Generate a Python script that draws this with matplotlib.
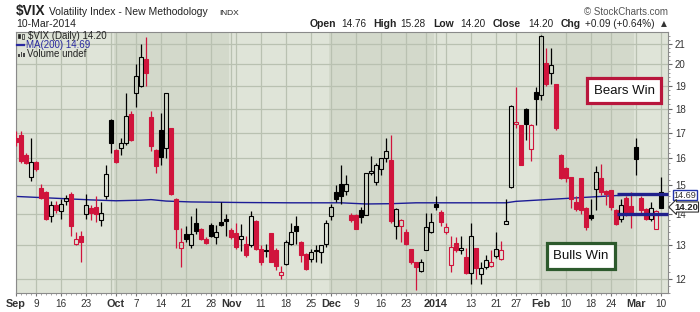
import numpy as np
import pandas as pd
import matplotlib
matplotlib.use("Agg")
import matplotlib.pyplot as plt
from matplotlib.patches import Rectangle
from matplotlib.ticker import FixedLocator, NullFormatter

# trading days Sep 3 2013 .. Mar 10 2014
holidays = ["2013-11-28", "2013-12-25", "2014-01-01", "2014-01-20", "2014-02-17"]
dates = pd.bdate_range("2013-09-03", "2014-03-10")
dates = dates[~dates.isin(pd.to_datetime(holidays))]

prev_close = 17.01

opens = [16.80, 16.90, 16.10, 15.30, 15.85, 14.90, 14.75, 13.95, 14.30, 14.10,
         14.45, 14.70, 13.05, 13.30, 14.00, 14.20, 14.25, 13.80, 14.60, 17.50,
         16.30, 16.40, 16.60, 17.75, 18.70, 19.00, 20.25, 17.65, 16.30, 17.10,
         16.40, 17.20, 14.50, 12.90, 13.35, 13.00, 13.70, 13.50, 13.20, 13.65,
         13.25, 13.75, 13.85, 13.48, 13.37, 13.20, 13.04, 12.99, 13.77, 12.87,
         12.85, 13.37, 12.84, 12.10, 12.43, 13.04, 13.60, 13.10, 12.72, 12.57,
         12.84, 12.79, 13.04, 13.94, 14.75, 15.05, 14.78, 13.98, 13.96, 14.12,
         13.98, 15.42, 15.10, 15.60, 16.00, 15.94, 13.60, 13.60, 13.40, 12.89,
         12.50, 12.22, 12.84, 13.43, 14.35, 14.07, 13.43, 12.40, 13.07, 12.84,
         12.64, 12.18, 12.91, 12.14, 12.33, 12.38, 12.67, 12.59, 13.67, 14.93,
         17.35, 17.30, 17.96, 16.36, 18.73, 18.58, 20.06, 19.60, 19.10, 16.13,
         15.63, 15.30, 14.40, 15.24, 14.20, 13.98, 14.85, 15.26, 14.80, 14.82,
         14.15, 13.83, 14.55, 14.26, 16.43, 14.53, 14.17, 13.85, 13.52, 14.76]

highs = [17.05, 17.05, 16.20, 16.80, 15.90, 15.05, 14.80, 14.45, 14.45, 14.50,
         14.65, 14.75, 13.40, 13.45, 14.70, 14.30, 14.60, 14.40, 15.75, 17.55,
         16.35, 16.80, 18.70, 17.90, 20.00, 21.00, 21.35, 17.90, 16.35, 17.80,
         18.70, 17.20, 14.55, 13.55, 13.60, 13.95, 14.20, 13.55, 13.25, 13.70,
         13.65, 14.40, 14.00, 13.55, 13.70, 13.66, 13.30, 14.10, 13.80, 12.99,
         13.05, 13.37, 12.90, 12.38, 13.15, 13.70, 13.95, 13.12, 12.75, 12.89,
         13.00, 13.01, 13.80, 14.33, 15.00, 15.75, 15.35, 14.05, 14.00, 14.25,
         15.42, 16.07, 15.82, 16.00, 16.80, 16.90, 14.20, 13.85, 13.50, 12.89,
         12.50, 12.58, 14.03, 14.03, 14.60, 14.12, 13.70, 13.30, 13.25, 13.29,
         12.91, 13.70, 12.91, 12.48, 12.69, 12.84, 13.43, 13.12, 14.52, 18.15,
         18.95, 17.30, 18.03, 17.35, 18.95, 21.45, 20.80, 20.77, 19.10, 16.17,
         15.66, 15.30, 14.60, 15.24, 14.24, 14.52, 15.70, 15.78, 14.83, 14.82,
         14.17, 14.52, 14.60, 14.75, 16.80, 14.60, 14.20, 14.40, 14.15, 15.28]

lows = [16.45, 15.80, 15.78, 15.15, 15.50, 14.50, 13.80, 13.75, 14.05, 13.85,
        14.30, 13.30, 13.00, 12.50, 13.85, 13.80, 13.75, 13.60, 14.50, 16.20,
        15.80, 16.10, 16.50, 16.65, 18.05, 18.95, 19.00, 16.25, 15.45, 15.75,
        16.00, 14.65, 12.90, 12.35, 13.10, 12.90, 13.35, 13.15, 13.03, 13.25,
        13.05, 13.60, 13.30, 13.20, 12.88, 12.83, 12.65, 12.95, 12.85, 12.40,
        12.64, 12.48, 12.24, 11.98, 12.40, 13.00, 13.05, 12.50, 12.25, 12.48,
        12.48, 12.45, 12.94, 13.80, 14.40, 14.35, 14.65, 13.75, 13.50, 13.70,
        13.96, 15.38, 15.02, 15.35, 15.85, 13.70, 13.18, 13.10, 12.99, 12.44,
        11.69, 12.20, 12.84, 13.38, 14.13, 13.60, 13.35, 12.20, 12.79, 12.74,
        12.13, 11.85, 11.99, 11.84, 12.28, 12.33, 12.60, 12.54, 13.66, 14.90,
        17.20, 15.72, 16.70, 15.90, 17.32, 18.35, 19.00, 19.10, 17.10, 15.23,
        15.11, 14.20, 14.10, 14.00, 13.47, 13.80, 14.12, 14.65, 14.30, 14.12,
        13.65, 13.75, 13.95, 13.53, 15.35, 14.05, 13.80, 13.78, 13.50, 14.20]

closes = [16.61, 15.90, 15.80, 15.85, 15.60, 14.55, 13.85, 14.30, 14.15, 14.35,
          14.55, 13.60, 13.20, 13.10, 14.30, 14.05, 14.00, 14.05, 15.40, 16.60,
          15.85, 16.60, 17.70, 16.70, 19.45, 20.35, 19.60, 16.45, 15.70, 16.05,
          18.70, 14.70, 13.50, 13.10, 13.20, 13.35, 13.45, 13.20, 13.07, 13.30,
          13.40, 13.65, 13.77, 13.27, 12.94, 13.28, 12.69, 13.94, 12.89, 12.50,
          12.82, 12.50, 12.38, 12.20, 13.10, 13.42, 13.45, 12.70, 12.28, 12.79,
          12.81, 12.99, 13.72, 14.25, 14.52, 14.62, 15.05, 13.80, 13.51, 13.90,
          15.42, 15.50, 15.72, 16.00, 16.28, 13.78, 14.16, 13.80, 13.04, 12.49,
          12.33, 12.48, 13.58, 13.75, 14.24, 13.75, 13.59, 12.94, 12.84, 12.91,
          12.16, 13.28, 12.30, 12.32, 12.54, 12.48, 12.87, 12.84, 13.77, 18.12,
          17.45, 15.75, 17.36, 17.30, 18.43, 21.40, 19.10, 19.98, 17.20, 15.26,
          15.24, 14.52, 14.18, 14.15, 13.57, 13.87, 15.47, 14.77, 14.68, 14.23,
          13.67, 14.30, 14.07, 14.00, 15.98, 14.15, 13.85, 14.20, 14.11, 14.20]

# 200-day moving average, read at a few dates
ma_dates = ["2013-09-03", "2013-09-10", "2013-09-17", "2013-09-24", "2013-10-01",
            "2013-10-08", "2013-10-10", "2013-10-15", "2013-10-22", "2013-11-05",
            "2013-11-19", "2013-12-04", "2013-12-11", "2013-12-18", "2013-12-26",
            "2014-01-10", "2014-01-23", "2014-01-27", "2014-02-03", "2014-02-10",
            "2014-02-18", "2014-02-25", "2014-03-04", "2014-03-10"]
ma_vals = [14.60, 14.56, 14.52, 14.48, 14.45, 14.47, 14.49, 14.44, 14.41, 14.39,
           14.38, 14.38, 14.34, 14.35, 14.38, 14.38, 14.38, 14.43, 14.48, 14.53,
           14.58, 14.63, 14.66, 14.69]

tick_dates = ["2013-09-03", "2013-09-09", "2013-09-16", "2013-09-23", "2013-10-01",
              "2013-10-07", "2013-10-14", "2013-10-21", "2013-10-28", "2013-11-01",
              "2013-11-11", "2013-11-18", "2013-11-25", "2013-12-02", "2013-12-09",
              "2013-12-16", "2013-12-23", "2014-01-02", "2014-01-13", "2014-01-21",
              "2014-01-27", "2014-02-03", "2014-02-10", "2014-02-18", "2014-02-24",
              "2014-03-03", "2014-03-10"]
tick_labels = ["Sep", "9", "16", "23", "Oct", "7", "14", "21", "28", "Nov", "11", "18",
               "25", "Dec", "9", "16", "23", "2014", "13", "21", "27", "Feb", "10",
               "18", "24", "Mar", "10"]
month_labels = {"Sep", "Oct", "Nov", "Dec", "2014", "Feb", "Mar"}

levels = [14.69, 14.00]   # drawn support/resistance lines
level_start = "2014-02-25"

BG = "#dfe4d8"
BAND = "#d3d9cb"
GRID = "#b9c1b1"
RED = "#d0143c"
BLACK = "#000000"
BLUE = "#1c1c96"

plt.rcParams["font.family"] = ["Liberation Sans", "DejaVu Sans"]

W, H = 700, 312
fx = lambda px: px / W
fy = lambda py: 1 - py / H

fig = plt.figure(figsize=(7, 3.12), dpi=100)
fig.patch.set_facecolor("white")
ax = fig.add_axes([fx(16), fy(293), (668 - 16) / W, (293 - 32) / H])
ax.set_facecolor(BG)
ax.set_yscale("log")
ax.set_ylim(11.6, 21.6)
ax.set_xlim(0, 130.4)

n = len(dates)
x = np.arange(n)
o, h, l, c = map(np.array, (opens, highs, lows, closes))

# alternate month shading
months = dates.to_period("M")
starts = [0] + [i for i in range(1, n) if months[i] != months[i - 1]] + [n]
for k in range(len(starts) - 1):
    if dates[starts[k]].month in (10, 12, 2):
        ax.axvspan(starts[k] - 0.5, starts[k + 1] - 0.5, color=BAND, lw=0, zorder=0)

# grid: week starts + month starts
week = dates.isocalendar().week.values
grid_idx = sorted(set([0] + [i for i in range(1, n) if week[i] != week[i - 1]] + starts[1:-1]))
for g in grid_idx:
    ax.axvline(g, color=GRID, lw=0.9, zorder=0.5)
for v in range(12, 22):
    ax.axhline(v, color=GRID, lw=0.9, zorder=0.5)

# moving average
ma_x = dates.get_indexer(pd.to_datetime(ma_dates))
ax.plot(ma_x, ma_vals, color=BLUE, lw=1.0, zorder=2.5)

# candles
pc = np.r_[prev_close, c[:-1]]
col = np.where(c >= pc, BLACK, RED)
hollow = c > o
lo_b = np.minimum(o, c)
hi_b = np.maximum(o, c)
ax.vlines(x, l, lo_b, colors=col, lw=0.9, zorder=3)
ax.vlines(x, hi_b, h, colors=col, lw=0.9, zorder=3)
for i in range(n):
    hgt = max(hi_b[i] - lo_b[i], 0.03)
    ax.add_patch(Rectangle((x[i] - 0.36, lo_b[i]), 0.72, hgt,
                           facecolor="none" if hollow[i] else col[i],
                           edgecolor=col[i], lw=0.8, zorder=4))

# thick level lines
x0 = dates.get_loc(pd.Timestamp(level_start)) + 0.1
for lv in levels:
    ax.plot([x0, 130.4], [lv, lv], color="#20208c", lw=2.4, solid_capstyle="butt",
            zorder=5, clip_on=False)

# axes styling
for s in ax.spines.values():
    s.set_color("#8a8a8a")
    s.set_linewidth(0.8)
ax.yaxis.tick_right()
ax.yaxis.set_major_locator(FixedLocator(range(12, 22)))
ax.set_yticklabels([str(v) for v in range(12, 22)])
ax.yaxis.set_minor_locator(FixedLocator([v / 5 for v in range(58, 108) if v % 5]))
ax.yaxis.set_minor_formatter(NullFormatter())
ax.tick_params(axis="y", which="major", length=3, color="#666", labelsize=7,
               labelcolor="#333", pad=2)
ax.tick_params(axis="y", which="minor", length=1.5, color="#888")

tick_x = dates.get_indexer(pd.to_datetime(tick_dates))
ax.set_xticks(tick_x)
ax.set_xticklabels(tick_labels)
ax.xaxis.set_minor_locator(FixedLocator(x))
ax.tick_params(axis="x", which="major", length=2, color="#777", pad=2, labelcolor="#333")
ax.tick_params(axis="x", which="minor", length=1.5, color="#999")
for t in ax.get_xticklabels():
    if t.get_text() in month_labels:
        t.set_fontweight("bold")
        t.set_fontsize(7.8)
    else:
        t.set_fontsize(7.2)

# header texts
fig.text(fx(16), fy(15), "$VIX", fontsize=9.8, fontweight="bold", color="#222")
fig.text(fx(49), fy(15), "Volatility Index - New Methodology", fontsize=7.5, color="#222")
fig.text(fx(219), fy(15), "INDX", fontsize=6, color="#222")
fig.text(fx(16), fy(27), "10-Mar-2014", fontsize=7.5, color="#222")
fig.text(fx(668), fy(15), "\u00a9 StockCharts.com", fontsize=7, color="#555", ha="right")

header = [("Open", True, 310), ("14.76", False, 341), ("High", True, 373),
          ("15.28", False, 400), ("Low", True, 433), ("14.20", False, 460),
          ("Close", True, 493), ("14.20", False, 528), ("Chg", True, 561),
          ("+0.09 (+0.64%)", False, 585)]
for txt, bold, px in header:
    fig.text(fx(px), fy(27), txt, fontsize=7.5 if bold else 7.2,
             fontweight="bold" if bold else "normal", color="#222")
fig.text(fx(661), fy(26), "\u25b2", fontsize=5.5, color="#333", family=["DejaVu Sans"])

# legend inside plot
fig.text(fx(28), fy(39), "$VIX (Daily) 14.20", fontsize=7, color="#222")
fig.text(fx(26), fy(48), "MA(200) 14.69", fontsize=7, color="#2a2aa0")
fig.text(fx(27), fy(57), "Volume undef", fontsize=7, color="#222")
fig.add_artist(Rectangle((fx(18), fy(38)), 2 / W, 4 / H, transform=fig.transFigure,
                         fc="#222", ec="#222", lw=0.5))
fig.add_artist(Rectangle((fx(22), fy(39)), 2 / W, 5 / H, transform=fig.transFigure,
                         fc="none", ec="#222", lw=0.5))
fig.add_artist(plt.Line2D([fx(17), fx(24)], [fy(45), fy(45)], transform=fig.transFigure,
                          color="#2a2aa0", lw=1.6))
for k, hh in enumerate([3, 5, 4]):
    fig.add_artist(Rectangle((fx(18 + 2.5 * k), fy(57)), 1.6 / W, hh / H,
                             transform=fig.transFigure, fc="#444", ec="none"))

# right side price labels
fig.text(fx(685), fy(195), "14.69", fontsize=6.6, color="#333", ha="center", va="center",
         bbox=dict(boxstyle="square,pad=0.06", fc="white", ec="#2233aa", lw=1))
fig.text(fx(686), fy(207), "14.20", fontsize=6.8, fontweight="bold", color="#222",
         ha="center", va="center",
         bbox=dict(boxstyle="larrow,pad=0.06", fc="white", ec="#333", lw=0.8))

# annotation boxes
fig.add_artist(Rectangle((fx(587), fy(103)), 74 / W, 25 / H, transform=fig.transFigure,
                         fc="white", ec="#b8163c", lw=2.3, zorder=6))
fig.text(fx(624), fy(91), "Bears Win", fontsize=9.5, ha="center", va="center",
         color="#111", zorder=7)
fig.add_artist(Rectangle((fx(547), fy(269)), 68 / W, 26 / H, transform=fig.transFigure,
                         fc="white", ec="#2d5a2d", lw=2.3, zorder=6))
fig.text(fx(581), fy(256), "Bulls Win", fontsize=9.5, ha="center", va="center",
         color="#111", zorder=7)

fig.savefig("out.png", dpi=100)
